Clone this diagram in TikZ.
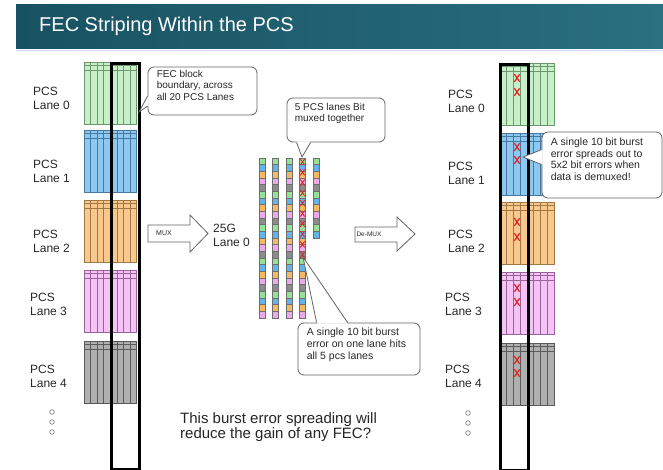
\documentclass[tikz,border=0pt]{standalone}
\usepackage{fontspec}
\setmainfont{Liberation Sans}
\usetikzlibrary{calc}
\definecolor{barL}{RGB}{24,82,98}
\definecolor{barR}{RGB}{42,112,128}
\definecolor{gF}{RGB}{200,240,200}\definecolor{gL}{RGB}{110,150,110}
\definecolor{bF}{RGB}{140,200,240}\definecolor{bL}{RGB}{70,120,160}
\definecolor{oF}{RGB}{248,200,140}\definecolor{oL}{RGB}{160,120,70}
\definecolor{pF}{RGB}{245,195,245}\definecolor{pL}{RGB}{150,100,150}
\definecolor{kF}{RGB}{175,175,175}\definecolor{kL}{RGB}{90,90,90}
\definecolor{mc0}{RGB}{150,225,150}
\definecolor{mc1}{RGB}{100,180,235}
\definecolor{mc2}{RGB}{245,185,100}
\definecolor{mc3}{RGB}{235,170,235}
\definecolor{mc4}{RGB}{140,140,140}
\definecolor{cline}{RGB}{110,110,110}
\definecolor{boxline}{RGB}{100,100,100}
\definecolor{errred}{RGB}{235,30,30}
\definecolor{lbltext}{RGB}{40,40,40}

\newcommand\pcsblk[6]{%
  \node[draw=#6, fill=#5, line width=0.5pt, minimum width=#4pt, minimum height=62pt, inner sep=0pt, anchor=north west] (#1) at (#2,#3) {};
  \foreach \i in {1,...,7}{\draw[#6, line width=0.45pt] ($(#1.north west)!\i/8!(#1.north east)$) -- ($(#1.south west)!\i/8!(#1.south east)$);}
  \draw[#6, line width=0.45pt] ($(#1.north west)+(0,3.5)$) -- ($(#1.north east)+(0,3.5)$)
        ($(#1.north west)+(0,8)$) -- ($(#1.north east)+(0,8)$);
}

\begin{document}
\begin{tikzpicture}[x=1pt,y=-1pt,
  lbl/.style={anchor=north west, inner sep=0pt, align=left, text=lbltext, font=\fontsize{12}{13.5}\selectfont},
  callbox/.style={draw=boxline, fill=white, rounded corners=6pt, line width=0.8pt, inner sep=0pt},
  calltext/.style={anchor=north west, inner sep=0pt, align=left, text=lbltext},
  fecbar/.style={draw=black, line width=2.8pt, minimum width=28pt, minimum height=406pt, inner sep=0pt, anchor=north west},
  arrowline/.style={draw=boxline, line width=0.8pt, fill=white},
  ptr/.style={draw=boxline, line width=0.8pt},
  redx/.pic={\draw[errred, line width=1.2pt] (-2.6,-3.8)--(2.6,3.8) (-2.6,3.8)--(2.6,-3.8);},
  redxs/.pic={\draw[errred, line width=0.9pt] (-2.2,-3)--(2.2,3) (-2.2,3)--(2.2,-3);}
]
\useasboundingbox (0,0) rectangle (663,470);
\fill[white] (0,0) rectangle (663,470);

% title bar
\shade[left color=barL, right color=barR] (16,5) rectangle (663,49);
\draw[blue!15, line width=1.2pt] (16,50.5) -- (663,50.5);
\node[anchor=base west, inner sep=0pt, text=white, font=\fontsize{20}{24}\selectfont] (title) at (39,32) {FEC Striping Within the PCS};

% left column blocks
\pcsblk{L0}{84}{62}{52}{gF}{gL}
\pcsblk{L1}{84}{130}{52}{bF}{bL}
\pcsblk{L2}{84}{200}{52}{oF}{oL}
\pcsblk{L3}{84}{270}{52}{pF}{pL}
\pcsblk{L4}{84}{341}{52}{kF}{kL}
\node[fecbar] (fecL) at (110,62) {};

% right column blocks
\pcsblk{R0}{499}{63}{55}{gF}{gL}
\pcsblk{R1}{499}{133}{55}{bF}{bL}
\pcsblk{R2}{499}{202}{55}{oF}{oL}
\pcsblk{R3}{499}{272}{55}{pF}{pL}
\pcsblk{R4}{499}{343}{55}{kF}{kL}
\node[fecbar] (fecR) at (499,63) {};
\foreach \ya/\yb in {78/92,147/160,222/237,288/302,360/373}{
  \pic at (517,\ya) {redx};
  \pic at (517,\yb) {redx};
}

% lane labels
\node[lbl] (l0) at (33,87) {PCS\\Lane 0};
\node[lbl] (l1) at (33,160) {PCS\\Lane 1};
\node[lbl] (l2) at (33,230) {PCS\\Lane 2};
\node[lbl] (l3) at (30,293) {PCS\\Lane 3};
\node[lbl] (l4) at (30,365) {PCS\\Lane 4};
\node[lbl] (r0) at (448,90) {PCS\\Lane 0};
\node[lbl] (r1) at (448,162) {PCS\\Lane 1};
\node[lbl] (r2) at (448,230) {PCS\\Lane 2};
\node[lbl] (r3) at (445,293) {PCS\\Lane 3};
\node[lbl] (r4) at (445,365) {PCS\\Lane 4};
\foreach \yy in {412,422,432}{
  \draw[gray, line width=0.7pt] (52,\yy) circle (2.3pt);
  \draw[gray, line width=0.7pt] (468,\yy+1) circle (2.3pt);
}

% mux arrow
\draw[arrowline] (148,225) -- (190,225) -- (190,215) -- (208,233.5) -- (190,252) -- (190,242) -- (148,242) -- cycle;
\node[inner sep=0pt, text=lbltext, font=\fontsize{7}{8}\selectfont] (mux) at (164,233.5) {MUX};
\node[lbl] (g25) at (213,224) {25G\\Lane 0};

% de-mux arrow
\draw[arrowline] (355,227) -- (397,227) -- (397,217) -- (415,234) -- (397,251) -- (397,242) -- (355,242) -- cycle;
\node[inner sep=0pt, text=lbltext, font=\fontsize{6.5}{8}\selectfont] (demux) at (369,234.5) {De-MUX};

% muxed lane columns
\foreach \cx in {259,272.5,286,299.5}{
  \foreach \r in {0,...,23}{
    \pgfmathtruncatemacro\k{mod(\r,5)}
    \draw[draw=cline, fill=mc\k, line width=0.4pt] (\cx,158+\r*6.667) rectangle ++(6,6.667);
  }
}
\foreach \r in {0,...,11}{
  \pgfmathtruncatemacro\k{mod(\r,5)}
  \draw[draw=cline, fill=mc\k, line width=0.4pt] (313,158+\r*6.667) rectangle ++(6,6.667);
}
\foreach \j in {0,...,9}{\pic at (302.5,162+\j*10.3) {redxs};}
\coordinate (burst) at (303,257);
\coordinate (muxtop) at (302,157);

% callout: FEC block boundary
\node[callbox, minimum width=109pt, minimum height=48pt] (cb1) at (202.5,91) {};
\coordinate (t1) at (139,112);
\fill[white] ($(cb1.west)+(1,5)$) -- ($(cb1.west)+(0,5)$) -- (t1) -- ($(cb1.west)+(0,15)$) -- ($(cb1.west)+(1,15)$) -- cycle;
\draw[ptr] ($(cb1.west)+(0,5)$) -- (t1) -- ($(cb1.west)+(0,15)$);
\node[calltext, font=\fontsize{10}{11.5}\selectfont] (ct1) at ($(cb1.north west)+(9,3)$) {FEC block\\boundary, across\\all 20 PCS Lanes};

% callout: 5 PCS lanes bit muxed
\node[callbox, minimum width=98pt, minimum height=44pt] (cb2) at (336,120) {};
\fill[white] ($(cb2.south west)+(10,-1)$) -- ($(cb2.south west)+(10,0)$) -- (muxtop) -- ($(cb2.south west)+(24,0)$) -- ($(cb2.south west)+(24,-1)$) -- cycle;
\draw[ptr] ($(cb2.south west)+(10,0)$) -- (muxtop) -- ($(cb2.south west)+(24,0)$);
\node[calltext, font=\fontsize{10}{11.5}\selectfont] (ct2) at ($(cb2.north west)+(8,5)$) {5 PCS lanes Bit\\muxed together};

% callout: single burst on one lane
\node[callbox, minimum width=122pt, minimum height=52pt] (cb3) at (359,349) {};
\fill[white] ($(cb3.north west)+(19,1)$) -- ($(cb3.north west)+(19,0)$) -- (burst) -- ($(cb3.north west)+(50,0)$) -- ($(cb3.north west)+(50,1)$) -- cycle;
\draw[ptr] ($(cb3.north west)+(19,0)$) -- (burst) -- ($(cb3.north west)+(50,0)$);
\node[calltext, font=\fontsize{10.5}{12}\selectfont] (ct3) at ($(cb3.north west)+(9,5)$) {A single 10 bit burst\\error on one lane hits\\all 5 pcs lanes};

% callout: spreads out when demuxed
\node[callbox, minimum width=120pt, minimum height=66pt] (cb4) at (602,165) {};
\coordinate (t4) at (523,157);
\fill[white] ($(cb4.north west)+(1,18)$) -- ($(cb4.north west)+(0,18)$) -- (t4) -- ($(cb4.north west)+(0,33)$) -- ($(cb4.north west)+(1,33)$) -- cycle;
\draw[ptr] ($(cb4.north west)+(0,18)$) -- (t4) -- ($(cb4.north west)+(0,33)$);
\node[calltext, font=\fontsize{10.5}{11.7}\selectfont] (ct4) at ($(cb4.north west)+(9,6)$) {A single 10 bit burst\\error spreads out to\\5x2 bit errors when\\data is demuxed!};

% bottom question
\node[anchor=north west, inner sep=0pt, align=left, text=black!85, font=\fontsize{15}{15.5}\selectfont] (q) at (180,412) {This burst error spreading will\\reduce the gain of any FEC?};
\end{tikzpicture}
\end{document}
